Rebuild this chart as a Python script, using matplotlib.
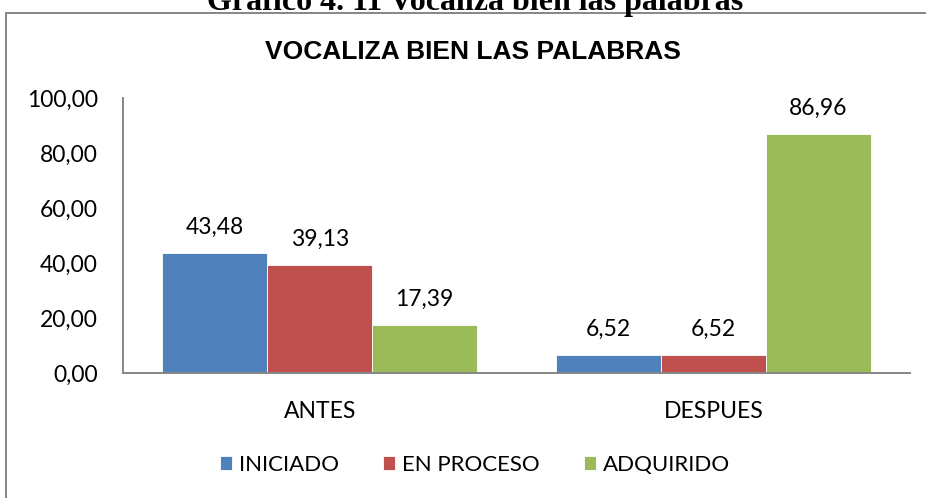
import matplotlib
matplotlib.use("Agg")
import matplotlib.pyplot as plt
from matplotlib.patches import Rectangle
import numpy as np

categories = ["ANTES", "DESPUES"]
series_names = ["INICIADO", "EN PROCESO", "ADQUIRIDO"]
iniciado = [43.48, 6.52]
en_proceso = [39.13, 6.52]
adquirido = [17.39, 86.96]
y_ticks = [0, 20, 40, 60, 80, 100]

COLORS = ["#4F81BD", "#C0504D", "#9BBB59"]
GREY = "#868686"
FONT = "Lato"

fig = plt.figure(figsize=(9.26, 4.98), dpi=100)
W, H = 926, 498

# outer chart frame (right and bottom edges run off the picture)
fig.patches.append(
    Rectangle((6 / W, -0.1), 1.2, 1 - 13 / H + 0.1, transform=fig.transFigure,
              fill=False, edgecolor=GREY, linewidth=1.4)
)

# caption above the frame, partly cut off
fig.text(475 / W, 1 - 10 / H, "Gráfico 4. 11 Vocaliza bien las palabras",
         ha="center", va="baseline", family="Liberation Serif",
         fontweight="bold", fontsize=23, color="black")

fig.text(473 / W, 1 - 52 / H, "VOCALIZA BIEN LAS PALABRAS", ha="center",
         va="center", family="Liberation Sans", fontweight="bold",
         fontsize=19, color="black")

ax = fig.add_axes([123 / W, 1 - 373 / H, (910 - 123) / W, (373 - 98) / H])

x = np.arange(len(categories))
width = 1 / 3.75
for i, (name, vals) in enumerate(zip(series_names, [iniciado, en_proceso, adquirido])):
    bars = ax.bar(x + (i - 1) * width, vals, width, color=COLORS[i],
                  edgecolor="white", linewidth=0.6, label=name, zorder=2)
    for b, v in zip(bars, vals):
        ax.text(b.get_x() + b.get_width() / 2, v + 5.5, f"{v:.2f}".replace(".", ","),
                ha="center", va="bottom", family=FONT, fontsize=16.5, color="black")

ax.set_xlim(-0.5, 1.5)
ax.set_ylim(0, 100)
ax.set_yticks(y_ticks)
ax.set_yticklabels([f"{t:.2f}".replace(".", ",") for t in y_ticks])
ax.set_xticks(x)
ax.set_xticklabels(categories)
for lab in ax.get_xticklabels() + ax.get_yticklabels():
    lab.set_family(FONT)
    lab.set_fontsize(16.5)
ax.tick_params(axis="y", length=0, pad=18)
ax.tick_params(axis="x", length=0, pad=20)

for s in ["top", "right"]:
    ax.spines[s].set_visible(False)
for s in ["left", "bottom"]:
    ax.spines[s].set_color(GREY)
    ax.spines[s].set_linewidth(1.4)

fig.legend(loc="center", bbox_to_anchor=(475 / W, 1 - 465 / H), ncol=3,
           frameon=False, prop={"family": FONT, "size": 16},
           handlelength=0.55, handleheight=0.55, handletextpad=0.3,
           columnspacing=2.0)

fig.savefig("out.png", dpi=100)
